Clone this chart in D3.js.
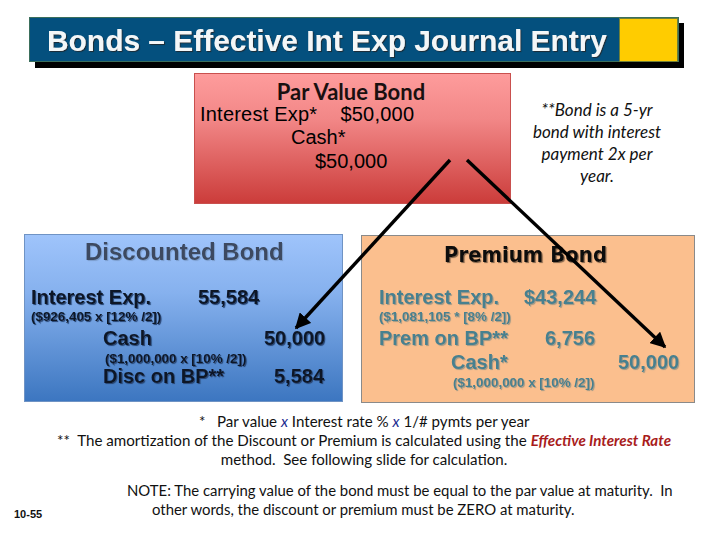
<!DOCTYPE html>
<html>
<head>
<meta charset="utf-8">
<script src="https://cdnjs.cloudflare.com/ajax/libs/d3/7.8.5/d3.min.js"></script>
<style>
  html, body { margin: 0; padding: 0; background: #fff; }
  svg { display: block; }
  text { white-space: pre; }
</style>
</head>
<body>
<svg id="slide" width="720" height="540"></svg>
<script>
var titleText = "Bonds – Effective Int Exp Journal Entry";
var parLines = ["Interest Exp*    $50,000", "Cash*", "$50,000"];
var bondNote = ["**Bond is a 5-yr", "bond with interest", "payment 2x per", "year."];
var discLabels = ["Discounted Bond", "Interest Exp.", "55,584", "($926,405 x [12% /2])", "Cash", "50,000", "($1,000,000 x [10% /2])", "Disc on BP**", "5,584"];
var premLabels = ["Premium Bond", "Interest Exp.", "$43,244", "($1,081,105 * [8% /2])", "Prem on BP**", "6,756", "Cash*", "50,000", "($1,000,000 x [10% /2])"];
var noteLines = ["NOTE: The carrying value of the bond must be equal to the par value at maturity.  In", "other words, the discount or premium must be ZERO at maturity."];

var svg = d3.select("#slide");
var defs = svg.append("defs");

function gradient(id, top, bottom) {
  var g = defs.append("linearGradient").attr("id", id)
    .attr("x1", 0).attr("y1", 0).attr("x2", 0).attr("y2", 1);
  g.append("stop").attr("offset", "0%").attr("stop-color", top[0]);
  g.append("stop").attr("offset", "35%").attr("stop-color", top[1]);
  g.append("stop").attr("offset", "100%").attr("stop-color", bottom);
}
gradient("redFill", ["#fe9c9c", "#f28787"], "#cb3c3a");
gradient("blueFill", ["#9fc4fb", "#86b1ee"], "#3c76c0");

// one drop shadow filter per text colour, so each label stays a single text
function shadowFilter(id, color) {
  var f = defs.append("filter").attr("id", id)
    .attr("x", "-5%").attr("y", "-20%").attr("width", "110%").attr("height", "140%");
  f.append("feDropShadow").attr("dx", 1.1).attr("dy", 1.1).attr("stdDeviation", 0.4)
    .attr("flood-color", color).attr("flood-opacity", 1);
}
shadowFilter("shTitle", "#1d2f3a");
shadowFilter("shBlue", "#7d9fcf");
shadowFilter("shDark", "#2a4a78");
shadowFilter("shPrem", "#8a6a50");
shadowFilter("shTeal", "#a89c86");

defs.append("marker").attr("id", "head")
  .attr("viewBox", "0 0 10 10").attr("refX", 9).attr("refY", 5)
  .attr("markerWidth", 4.6).attr("markerHeight", 4.6)
  .attr("markerUnits", "strokeWidth")
  .attr("orient", "auto")
  .append("path").attr("d", "M0,0 L10,5 L0,10 Z").attr("fill", "#000");

function box(x, y, w, h, fill, stroke) {
  return svg.append("rect").attr("x", x).attr("y", y).attr("width", w).attr("height", h)
    .attr("fill", fill).attr("stroke", stroke).attr("stroke-width", 1);
}

function label(txt, x, y, size, opts) {
  opts = opts || {};
  var t = svg.append("text").attr("x", x).attr("y", y)
    .attr("font-family", opts.font || "Liberation Sans")
    .attr("font-size", size).attr("font-weight", opts.weight || "bold")
    .attr("font-style", opts.style || "normal")
    .attr("text-anchor", opts.anchor || "start")
    .attr("fill", opts.fill || "#000").text(txt);
  if (opts.shadow) t.attr("filter", "url(#" + opts.shadow + ")");
  return t;
}

// title bar
svg.append("rect").attr("x", 35).attr("y", 23).attr("width", 649).attr("height", 45).attr("fill", "#000");
box(29.5, 17.5, 649, 44, "#04507e", "#3b6f5c");
box(619.5, 18.5, 58, 43, "#ffcc00", "#6f7f3a");
label(titleText, 47, 51, 29, { fill: "#f4f7f8", shadow: "shTitle" })
  .attr("textLength", 560).attr("lengthAdjust", "spacingAndGlyphs");

// par value box
box(194.5, 73.5, 316, 130, "url(#redFill)", "#c9504e");
label("Par Value Bond", 351, 100, 22, { font: "Lato", anchor: "middle", fill: "#1a1010" });
label(parLines[0], 200, 121, 20, { weight: "normal" }).attr("textLength", 214);
label(parLines[1], 291, 144, 20, { weight: "normal" });
label(parLines[2], 315, 168, 20, { weight: "normal" });

// side note
svg.selectAll(".side").data(bondNote).enter().append("text")
  .attr("class", "side")
  .attr("x", 597).attr("y", function(d, i) { return 116 + i * 22; })
  .attr("text-anchor", "middle")
  .attr("font-family", "Lato").attr("font-size", 17).attr("font-style", "italic")
  .attr("fill", "#111").text(function(d) { return d; });

// discounted bond
box(24.5, 234.5, 318, 167, "url(#blueFill)", "#6f93c4");
var navy = "#101828";
label(discLabels[0], 85, 260, 24, { fill: "#3c4a60", shadow: "shBlue" });
label(discLabels[1], 31, 304, 20, { fill: navy, shadow: "shDark" });
label(discLabels[2], 198, 304, 20, { fill: navy, shadow: "shDark" });
label(discLabels[3], 31, 321, 13.4, { fill: navy, shadow: "shDark" });
label(discLabels[4], 103, 345, 20, { fill: navy, shadow: "shDark" });
label(discLabels[5], 264, 345, 20, { fill: navy, shadow: "shDark" });
label(discLabels[6], 105, 363, 13.4, { fill: navy, shadow: "shDark" });
label(discLabels[7], 103, 383, 20, { fill: navy, shadow: "shDark" });
label(discLabels[8], 274, 383, 20, { fill: navy, shadow: "shDark" });

// premium bond
box(361.5, 235.5, 333, 167, "#fbbf8e", "#8a8a8a");
var teal = "#47808f";
label(premLabels[0], 444, 262, 21, { font: "DejaVu Sans", fill: "#0a0a0a", shadow: "shPrem" })
  .attr("textLength", 163).attr("lengthAdjust", "spacingAndGlyphs");
label(premLabels[1], 379, 304, 20, { fill: teal, shadow: "shTeal" });
label(premLabels[2], 524, 304, 20, { fill: teal, shadow: "shTeal" });
label(premLabels[3], 379, 321, 13.4, { fill: teal, shadow: "shTeal" });
label(premLabels[4], 379, 345, 20, { fill: teal, shadow: "shTeal" });
label(premLabels[5], 545, 345, 20, { fill: teal, shadow: "shTeal" });
label(premLabels[6], 451, 369, 20, { fill: teal, shadow: "shTeal" });
label(premLabels[7], 618, 369, 20, { fill: teal, shadow: "shTeal" });
label(premLabels[8], 453, 387, 13.4, { fill: teal, shadow: "shTeal" });

// arrows
svg.append("line").attr("x1", 450).attr("y1", 160).attr("x2", 296).attr("y2", 328)
  .attr("stroke", "#000").attr("stroke-width", 3.4).attr("marker-end", "url(#head)");
svg.append("line").attr("x1", 467).attr("y1", 160).attr("x2", 665).attr("y2", 347)
  .attr("stroke", "#000").attr("stroke-width", 3.4).attr("marker-end", "url(#head)");

// footnotes
var footSize = 14.9;
var foot1 = svg.append("text").attr("x", 199).attr("y", 427)
  .attr("font-family", "Lato").attr("font-size", 15.1).attr("fill", "#111");
foot1.append("tspan").text("*   Par value ");
foot1.append("tspan").attr("font-style", "italic").attr("fill", "#1a2a90").text("x");
foot1.append("tspan").text(" Interest rate % ");
foot1.append("tspan").attr("font-style", "italic").attr("fill", "#1a2a90").text("x");
foot1.append("tspan").text(" 1/# pymts per year");

var foot2 = svg.append("text").attr("x", 57).attr("y", 446)
  .attr("font-family", "Lato").attr("font-size", 15.15).attr("fill", "#111");
foot2.append("tspan").text("**  The amortization of the Discount or Premium is calculated using the ");
foot2.append("tspan").attr("font-style", "italic").attr("font-weight", "bold").attr("fill", "#a81c1c").text("Effective Interest Rate");

label("method.  See following slide for calculation.", 364, 465, 15.1, { font: "Lato", weight: "normal", anchor: "middle", fill: "#111" });

svg.append("text").attr("x", 127).attr("y", 496)
  .attr("font-family", "Lato").attr("font-size", footSize).attr("fill", "#111").text(noteLines[0]);
svg.append("text").attr("x", 152).attr("y", 515)
  .attr("font-family", "Lato").attr("font-size", footSize).attr("fill", "#111").text(noteLines[1]);

label("10-55", 14, 518, 11, { fill: "#111" });
</script>
</body>
</html>
